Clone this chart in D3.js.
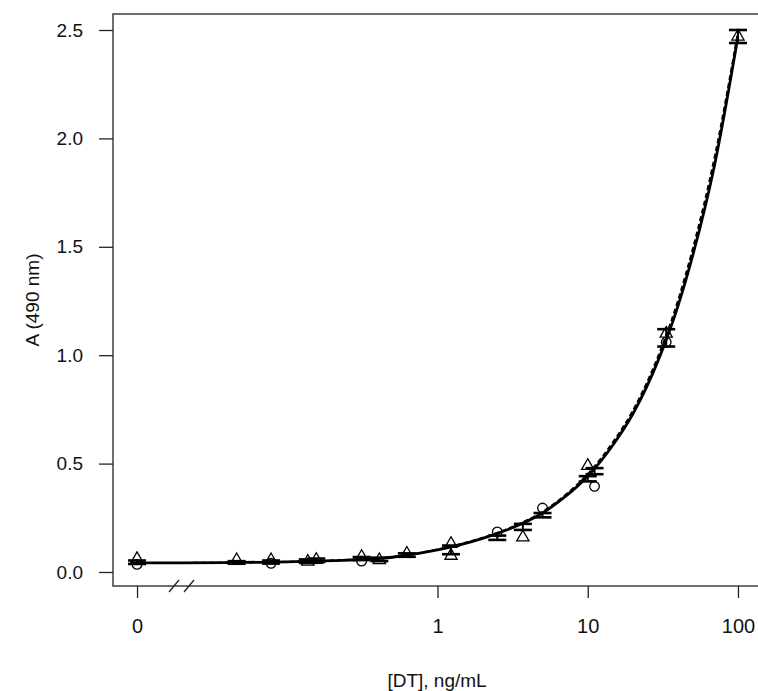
<!DOCTYPE html>
<html>
<head>
<meta charset="utf-8">
<script src="https://cdn.jsdelivr.net/npm/d3@7"></script>
<style>
  body { margin: 0; background: #fff; }
  text { font-family: "Liberation Sans", Arial, sans-serif; fill: #111; }
</style>
</head>
<body>
<div id="chart"></div>
<script>
var svgWidth = 758;
var svgHeight = 691;

// concentrations (ng/mL); 0 is drawn at the 0.01 position left of the axis break
var conc = [0, 0.046, 0.078, 0.137, 0.156, 0.3125, 0.41, 0.625, 1.23, 2.5, 3.7, 5, 10, 11.1, 33.3, 100];
var meanA = [0.045, 0.044, 0.046, 0.050, 0.054, 0.062, 0.058, 0.078, 0.102, 0.158, 0.208, 0.262, 0.43, 0.465, 1.08, 2.47];
var sdA = [0.008, 0.006, 0.007, 0.008, 0.008, 0.007, 0.008, 0.008, 0.02, 0.01, 0.014, 0.01, 0.012, 0.014, 0.04, 0.03];

// replicate points
var triConc = [0, 0.046, 0.078, 0.137, 0.156, 0.3125, 0.41, 0.625, 1.23, 1.23, 3.7, 10, 33.3, 100];
var triA = [0.06, 0.055, 0.055, 0.048, 0.056, 0.07, 0.055, 0.085, 0.13, 0.075, 0.16, 0.49, 1.10, 2.47];
var circConc = [0, 0.078, 0.3125, 2.5, 5, 11.1, 33.3];
var circA = [0.035, 0.04, 0.05, 0.185, 0.295, 0.395, 1.06];

// fitted curves
var fitConc = [0, 0.02, 0.05, 0.1, 0.2, 0.5, 1, 2, 3, 5, 7, 10, 15, 20, 30, 40, 50, 70, 100];
var fitA = [0.042, 0.042, 0.044, 0.047, 0.052, 0.068, 0.102, 0.155, 0.198, 0.272, 0.345, 0.442, 0.594, 0.73, 0.99, 1.23, 1.46, 1.88, 2.47];
var fitB = [0.042, 0.042, 0.044, 0.047, 0.053, 0.069, 0.104, 0.158, 0.202, 0.278, 0.352, 0.452, 0.607, 0.745, 1.01, 1.255, 1.49, 1.915, 2.49];

var xTicks = [0, 1, 10, 100];
var xTickLabels = ["0", "1", "10", "100"];
var yTicks = [0, 0.5, 1.0, 1.5, 2.0, 2.5];

var box = { left: 113, top: 14, right: 762, bottom: 586 };

var svg = d3.select("#chart")
  .append("svg")
  .attr("width", svgWidth)
  .attr("height", svgHeight);

var zeroPos = 0.01;
var pad = Math.pow(10, 0.16);
var xScale = d3.scaleLog()
  .domain([zeroPos / pad, 100 * pad])
  .range([box.left, box.right]);
var yScale = d3.scaleLinear()
  .domain([-0.0646, 2.5738])
  .range([box.bottom, box.top]);

function xp(c) { return xScale(c === 0 ? zeroPos : c); }

// Axes
var bottomAxis = d3.axisBottom(xScale)
  .tickValues(xTicks.map(function(d) { return d === 0 ? zeroPos : d; }))
  .tickFormat(function(d, i) { return xTickLabels[i]; })
  .tickSizeOuter(0)
  .tickSize(12)
  .tickPadding(21);

var leftAxis = d3.axisLeft(yScale)
  .tickValues(yTicks)
  .tickFormat(d3.format(".1f"))
  .tickSizeOuter(0)
  .tickSize(14)
  .tickPadding(16);

var gx = svg.append("g")
  .attr("transform", `translate(0, ${box.bottom})`)
  .call(bottomAxis);
gx.select(".domain").remove();
gx.selectAll("line").attr("stroke", "#222").attr("stroke-width", 1.3);
gx.selectAll("text").style("font-size", "20px");

var gy = svg.append("g")
  .attr("transform", `translate(${box.left}, 0)`)
  .call(leftAxis);
gy.select(".domain").remove();
gy.selectAll("line").attr("stroke", "#222").attr("stroke-width", 1.3);
gy.selectAll("text").style("font-size", "19px");

// plot box
svg.append("rect")
  .attr("x", box.left)
  .attr("y", box.top)
  .attr("width", box.right - box.left)
  .attr("height", box.bottom - box.top)
  .attr("fill", "none")
  .attr("stroke", "#222")
  .attr("stroke-width", 1.3);

// axis break marks
[174, 189].forEach(function(cx) {
  svg.append("line")
    .attr("x1", cx - 5).attr("y1", box.bottom + 6)
    .attr("x2", cx + 5).attr("y2", box.bottom - 6)
    .attr("stroke", "#222")
    .attr("stroke-width", 1.3);
});

// Curves
var line = d3.line()
  .x(function(d) { return xp(d[0]); })
  .y(function(d) { return yScale(d[1]); })
  .curve(d3.curveMonotoneX);

svg.append("path")
  .datum(fitConc.map(function(c, i) { return [c, fitB[i]]; }))
  .attr("d", line)
  .attr("fill", "none")
  .attr("stroke", "#000")
  .attr("stroke-width", 2)
  .attr("stroke-dasharray", "5,3");

svg.append("path")
  .datum(fitConc.map(function(c, i) { return [c, fitA[i]]; }))
  .attr("d", line)
  .attr("fill", "none")
  .attr("stroke", "#000")
  .attr("stroke-width", 2.8);

// Error bars
var capW = 9;
var bars = svg.append("g");
conc.forEach(function(c, i) {
  var x = xp(c);
  var lo = yScale(meanA[i] - sdA[i]);
  var hi = yScale(meanA[i] + sdA[i]);
  bars.append("line").attr("x1", x).attr("x2", x).attr("y1", lo).attr("y2", hi)
    .attr("stroke", "#000").attr("stroke-width", 2);
  [lo, hi].forEach(function(y) {
    bars.append("line").attr("x1", x - capW).attr("x2", x + capW).attr("y1", y).attr("y2", y)
      .attr("stroke", "#000").attr("stroke-width", 2.6);
  });
});

// Points
var tri = d3.symbol().type(d3.symbolTriangle).size(65);
svg.append("g").selectAll("path")
  .data(triConc.map(function(c, i) { return [c, triA[i]]; }))
  .enter()
  .append("path")
  .attr("d", tri)
  .attr("transform", function(d) { return `translate(${xp(d[0])}, ${yScale(d[1])})`; })
  .attr("fill", "none")
  .attr("stroke", "#000")
  .attr("stroke-width", 1.3);

svg.append("g").selectAll("circle")
  .data(circConc.map(function(c, i) { return [c, circA[i]]; }))
  .enter()
  .append("circle")
  .attr("cx", function(d) { return xp(d[0]); })
  .attr("cy", function(d) { return yScale(d[1]); })
  .attr("r", 4.8)
  .attr("fill", "none")
  .attr("stroke", "#000")
  .attr("stroke-width", 1.3);

// Axis titles
svg.append("text")
  .attr("x", 437)
  .attr("y", 687)
  .attr("text-anchor", "middle")
  .style("font-size", "19px")
  .text("[DT], ng/mL");

svg.append("text")
  .attr("transform", `translate(39, ${(box.top + box.bottom) / 2}) rotate(-90)`)
  .attr("text-anchor", "middle")
  .style("font-size", "19px")
  .text("A (490 nm)");
</script>
</body>
</html>
